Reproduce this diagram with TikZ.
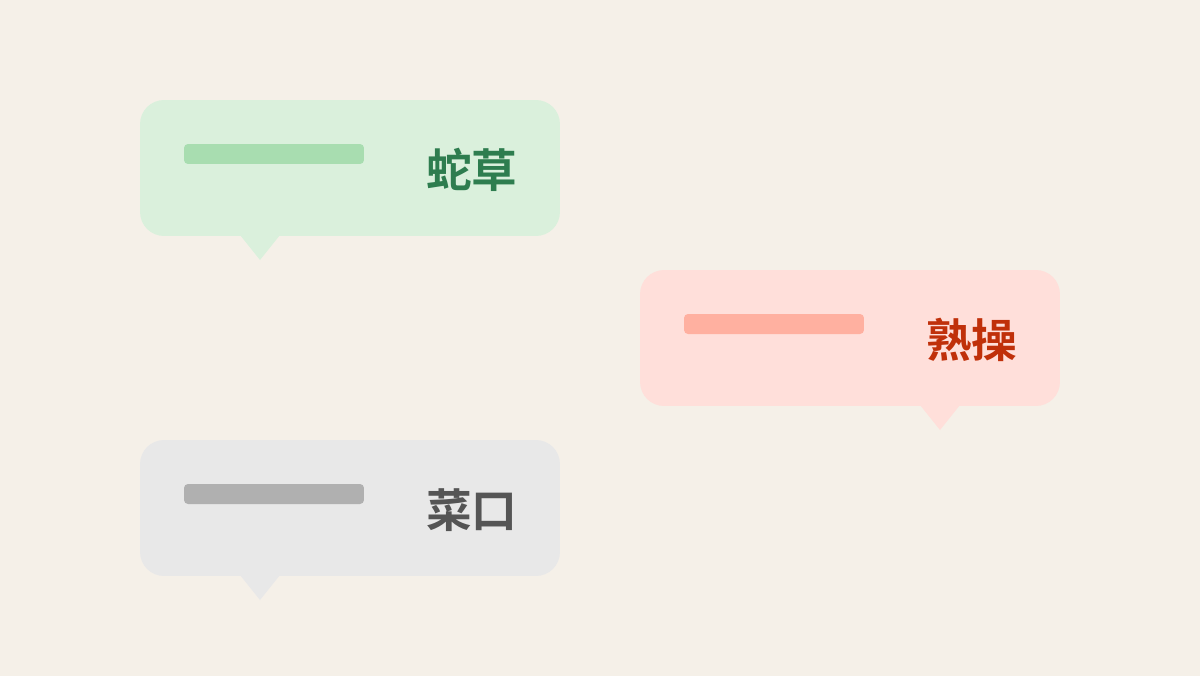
\documentclass[tikz,border=0pt]{standalone}
\usepackage{fontspec}
\newfontfamily\cjk{Noto Sans CJK SC}[BoldFont={Noto Sans CJK SC Bold}]
\usepackage{tikz}
\usetikzlibrary{positioning}
\definecolor{bgcol}{HTML}{F5F0E8}
\definecolor{greenfill}{HTML}{DAF0DC}
\definecolor{greenbar}{HTML}{A8DDB0}
\definecolor{greentext}{HTML}{2E7D4F}
\definecolor{redfill}{HTML}{FFDFDA}
\definecolor{redbar}{HTML}{FFB0A0}
\definecolor{redtext}{HTML}{C0300A}
\definecolor{grayfill}{HTML}{E8E8E8}
\definecolor{graybar}{HTML}{B0B0B0}
\definecolor{graytext}{HTML}{555555}
\begin{document}
\begin{tikzpicture}[x=0.02cm,y=-0.02cm]
        % Define styles
        \tikzset{
            bubble/.style={rectangle, rounded corners=0.48cm, minimum width=8.4cm, minimum height=2.72cm, inner sep=0},
            bar/.style={rectangle, rounded corners=0.08cm, minimum width=3.6cm, minimum height=0.4cm, inner sep=0},
            word/.style={font=\cjk\bfseries\fontsize{26}{30}\selectfont, anchor=east, inner sep=0}
        }
        \fill[bgcol] (0,0) rectangle (1200,676);

        % Green bubble
        \node[bubble, fill=greenfill] (green_bubble) at (350,168) {};
        \fill[greenfill] (240,235) -- (280,235) -- (260,260) -- cycle;
        \node[bar, fill=greenbar] (green_bar) at (274,154) {};
        \node[word, text=greentext] (green_word) at (518,170) {蛇草};

        % Red bubble
        \node[bubble, fill=redfill] (red_bubble) at (850,338) {};
        \fill[redfill] (920,405) -- (960,405) -- (940,430) -- cycle;
        \node[bar, fill=redbar] (red_bar) at (774,324) {};
        \node[word, text=redtext] (red_word) at (1018,340) {熟操};

        % Gray bubble
        \node[bubble, fill=grayfill] (gray_bubble) at (350,508) {};
        \fill[grayfill] (240,575) -- (280,575) -- (260,600) -- cycle;
        \node[bar, fill=graybar] (gray_bar) at (274,494) {};
        \node[word, text=graytext] (gray_word) at (518,510) {菜口};
\end{tikzpicture}
\end{document}
